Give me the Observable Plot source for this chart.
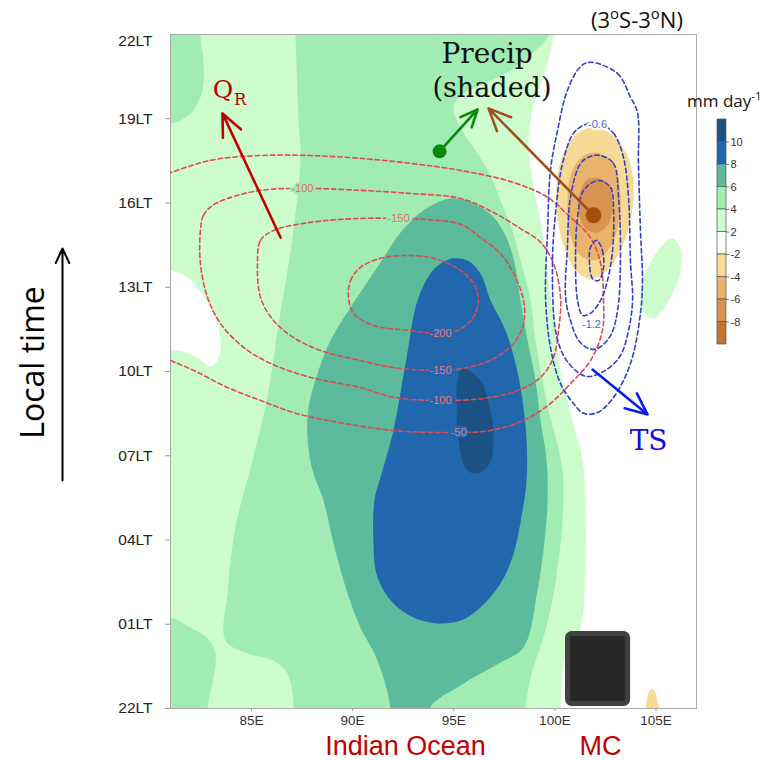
<!DOCTYPE html>
<html><head><meta charset="utf-8">
<script src="https://cdn.jsdelivr.net/npm/d3@7"></script>
<script src="https://cdn.jsdelivr.net/npm/@observablehq/plot@0.6"></script>
<style>
body{margin:0;background:#fff;}
#wrap{position:relative;width:770px;height:760px;overflow:hidden;}
#wrap svg{position:absolute;left:0;top:0;}
.lbl{position:absolute;white-space:nowrap;color:#111;}
.lbl sup{font-size:0.68em;line-height:0;vertical-align:0.62em;}
</style></head><body>
<div id="wrap">
<div class="lbl" style="left:591px;top:8px;font:22px/22px 'Open Sans';">(3<sup>o</sup>S-3<sup>o</sup>N)</div>
<div class="lbl" style="left:687px;top:92px;font:17px/17px 'Open Sans';">mm day<sup>-1</sup></div>
</div>
<script>
// ---- shading levels (mm/day) ----
const levels = ["≥10","8–10","6–8","4–6","2–4","-2–2","-4–-2","-6–-4","-8–-6","≤-8"];
const levelColors = ["#1b5283","#2167ae","#5bbb9c","#a1ecb2","#cdfccd","#ffffff","#f6da96","#e9b36c","#d9934f","#c27630"];
const cbarLabels = ["10","8","6","4","2","-2","-4","-6","-8"];

// ---- axes ----
const hourTicks = [0,3,6,9,12,15,18,21,24];
const hourLabels = ["22LT","01LT","04LT","07LT","10LT","13LT","16LT","19LT","22LT"];
const lonTicks = [85,90,95,100,105];

// ---- precipitation shaded regions [lon, hour] ----
const vlgMain = [[80,25],[99.93,25],[99.93,23.97],[99.54,22.72],[98.94,21.47],[98.70,20.23],[98.89,18.80],[99.29,17.38],[99.64,15.60],[99.93,13.82],[100.28,12.04],[100.87,10.26],[101.37,8.83],[101.51,7.05],[101.51,5.27],[101.27,2.88],[100.53,1.89],[100.28,0.04],[100.28,-1],[80,-1]];
const vlgBlob = [[105.81,16.74],[106.21,16.38],[106.16,15.42],[105.62,14.53],[104.88,13.89],[104.33,14.17],[104.28,15.07],[104.73,15.88],[105.32,16.49]];
const mgMain = [[87.08,25],[99.69,25],[99.69,23.97],[99.04,23.43],[97.81,22.72],[96.32,22.19],[95.24,21.76],[94.99,21.37],[95.34,20.66],[96.08,19.87],[96.82,18.98],[97.31,18.09],[97.90,17.02],[98.30,15.95],[98.80,14.53],[99.04,13.11],[99.39,11.68],[99.69,10.61],[100.08,9.54],[100.38,8.48],[100.38,6.70],[100.18,5.27],[99.88,3.85],[99.39,2.42],[98.89,1.35],[98.55,0.04],[98.55,-1],[87.08,-1],[87.08,0.04],[87.03,0.53],[86.78,1.25],[86.09,1.71],[84.81,1.96],[83.72,2.42],[83.82,4.10],[84.21,6.45],[85.05,8.83],[85.79,11.08],[86.29,13.46],[87.08,17.02],[87.43,19.76],[87.33,20.94],[87.18,23.90]];
const mgTopLeft = [[80,25],[82.48,25],[82.48,23.90],[82.63,23.08],[82.58,22.01],[82.14,21.30],[81.49,20.94],[81,20.83],[80,20.8]];
const mgBotLeft = [[80,3.24],[81,3.24],[81.99,2.88],[82.83,2.49],[83.22,1.99],[83.13,1.10],[82.83,0.04],[82.83,-1],[80,-1]];
const teal = [[94.84,18.16],[95.98,17.98],[96.97,17.49],[97.66,16.67],[98.05,15.71],[98.30,14.53],[98.65,13.11],[99.04,11.68],[99.29,10.26],[99.59,8.83],[99.64,7.41],[99.49,5.98],[99.14,4.20],[98.45,2.17],[97.31,1.64],[95.98,1.10],[95.09,0.71],[94.35,0.39],[93.85,0.04],[93.85,-1],[91.87,-1],[91.87,0.04],[91.23,1.71],[90.39,2.88],[89.75,4.10],[89.06,5.88],[88.56,7.41],[88.02,8.48],[87.77,9.65],[87.82,10.72],[88.27,11.93],[88.91,13.11],[89.90,14.28],[91.38,15.88],[92.37,16.95],[93.51,17.74]];
const blue = [[94.99,16.03],[95.68,15.95],[96.32,15.49],[96.82,14.53],[97.56,13.46],[98.05,12.29],[98.40,10.97],[98.60,9.54],[98.60,8.12],[98.40,7.05],[97.96,5.52],[97.31,4.45],[96.32,3.60],[95.34,3.13],[94.20,3.03],[93.01,3.24],[92.02,3.74],[91.23,4.67],[91.03,5.98],[91.08,7.41],[91.38,8.23],[92.02,9.90],[92.62,12.29],[93.21,14.53],[93.85,15.49],[94.45,15.88]];
const darkBlue = [[95.44,12.11],[96.32,11.68],[96.82,10.61],[96.97,9.54],[96.72,8.65],[96.08,8.37],[95.58,8.55],[95.24,9.54],[95.14,10.97],[95.19,11.75]];
const whiteLeft = [[80,15.53],[81.49,15.49],[82.14,15.14],[82.98,14.28],[83.37,13.57],[83.47,12.75],[83.22,12.29],[82.98,12.18],[82.33,12.50],[81.49,12.75],[80,12.93]];
const tan1 = [[101.86,20.69],[102.85,20.41],[103.59,19.69],[103.89,18.63],[103.74,17.38],[103.24,16.31],[102.50,15.53],[101.76,15.31],[101.02,15.60],[100.43,16.49],[100.08,17.74],[100.13,18.98],[100.53,19.94],[101.17,20.51]];
const tan2 = [[101.91,19.80],[102.65,19.59],[103.10,18.98],[103.24,17.91],[102.99,16.85],[102.50,16.20],[101.91,15.95],[101.27,16.13],[100.77,16.85],[100.62,17.91],[100.77,18.98],[101.27,19.59]];
const tan3 = [[102.01,18.91],[102.60,18.70],[102.85,17.98],[102.65,17.27],[102.11,16.95],[101.51,17.09],[101.17,17.74],[101.27,18.45],[101.56,18.80]];
const tanSpot = [[104.58,-1],[104.63,0.57],[104.83,0.71],[105.02,0.46],[105.12,-1]];

// ---- QR contours (red dashed) ----
const qr50 = [[80.51,18.95],[82.98,19.52],[85.45,19.69],[87.92,19.69],[90.39,19.59],[92.86,19.41],[95.34,19.16],[97.96,18.73],[99.64,18.20],[100.77,17.49],[101.76,16.77],[102.26,15.85],[102.40,14.64],[102.35,13.46],[101.76,12.39],[100.77,11.57],[99.78,10.86],[98.45,10.26],[96.82,9.90],[94.69,9.83],[92.02,9.90],[88.76,10.26],[87.08,10.54],[85.45,10.97],[83.82,11.43],[82.14,12.04],[80.51,12.54]];
const qr100 = [[82.48,17.02],[82.63,17.56],[83.08,17.91],[83.82,18.16],[85.45,18.45],[87.52,18.52],[90.39,18.45],[92.86,18.34],[95.34,18.16],[96.97,17.66],[98.30,17.09],[99.29,16.60],[99.93,15.85],[100.28,14.64],[100.18,13.46],[99.93,12.50],[99.29,11.79],[98.15,11.32],[96.47,11.04],[94.25,10.97],[92.02,11.08],[90.39,11.43],[87.92,11.79],[85.94,12.29],[84.61,12.86],[83.47,13.71],[82.83,14.64],[82.48,15.85]];
const qr150 = [[85.30,15.85],[85.45,16.67],[86.09,17.02],[87.92,17.31],[90.39,17.45],[92.27,17.45],[93.70,17.41],[95.34,17.24],[96.32,16.77],[97.31,16.20],[97.96,15.49],[98.45,14.53],[98.45,13.71],[97.96,13.00],[96.97,12.46],[95.68,12.14],[94.25,12.04],[92.02,12.14],[90.39,12.39],[88.41,12.75],[87.08,13.21],[86.09,13.82],[85.45,14.64]];
const qr200 = [[89.80,14.64],[89.90,15.24],[90.39,15.71],[91.38,16.03],[92.72,16.13],[94.00,16.03],[95.19,15.67],[95.98,15.14],[96.22,14.53],[95.93,13.89],[95.19,13.46],[94.35,13.35],[92.86,13.46],[91.03,13.64],[90.05,14.07]];
const qrLabelsGreen = [{lon:87.52,hr:18.52,t:"-100"},{lon:92.27,hr:17.45,t:"-150"}];
const qrLabelsBlue = [{lon:94.35,hr:13.35,t:"-200"},{lon:94.35,hr:12.04,t:"-150"},{lon:94.35,hr:10.97,t:"-100"},{lon:95.24,hr:9.83,t:"-50"}];

// ---- TS contours (blue dashed) ----
const ts1 = [[101.76,23.01],[103.10,22.61],[103.74,21.76],[104.08,21.23],[104.13,19.41],[104.23,17.02],[104.33,15.24],[104.23,14.07],[103.74,12.29],[102.90,11.08],[102.11,10.54],[101.42,10.51],[100.92,10.86],[100.28,11.57],[99.78,12.86],[99.54,14.64],[99.64,17.02],[99.78,19.16],[100.13,20.58],[100.62,22.01],[101.27,22.86]];
const ts2 = [[102.11,20.87],[102.90,20.48],[103.39,19.62],[103.64,18.20],[103.74,15.85],[103.84,14.53],[103.64,13.46],[103.24,12.57],[102.50,12.04],[101.61,11.82],[101.02,12.04],[100.43,12.57],[100.03,13.46],[99.88,15.85],[100.03,17.63],[100.38,19.41],[100.92,20.48],[101.51,20.80]];
const ts3 = [[102.26,19.69],[102.90,19.41],[103.15,18.20],[103.24,15.85],[103.10,14.17],[102.75,13.28],[102.11,12.82],[101.66,12.82],[101.17,13.11],[100.77,13.82],[100.53,14.64],[100.62,16.42],[100.77,18.20],[101.27,19.41],[101.76,19.66]];
const ts4 = [[102.16,18.80],[102.75,18.55],[102.90,17.74],[102.85,16.31],[102.60,15.24],[102.26,14.53],[101.76,14.07],[101.37,14.00],[101.12,14.53],[101.02,15.95],[101.12,17.49],[101.42,18.45]];
const ts5 = [[102.06,16.67],[102.35,16.31],[102.40,15.67],[102.16,15.24],[101.86,15.31],[101.71,15.88],[101.76,16.42]];
const tsLabels = [{lon:102.11,hr:20.80,t:"-0.6"},{lon:101.81,hr:13.68,t:"-1.2"}];

// ---- annotations ----
const qrArrow = [{x1:86.44,y1:16.77,x2:83.57,y2:21.19}];
const greenArrow = [{x1:94.30,y1:19.84,x2:96.18,y2:21.33}];
const brownArrow = [{x1:101.91,y1:17.56,x2:96.72,y2:21.37}];
const tsArrow = [{x1:101.86,y1:12.07,x2:104.58,y2:10.47}];
const greenDot = [{lon:94.30,hr:19.84}];
const brownDot = [{lon:101.91,hr:17.56}];
const maskBox = [{x1:100.65,x2:103.62,y1:0.16,y2:2.65}];
const regionLabels = [{lon:92.62,t:"Indian Ocean"},{lon:102.26,t:"MC"}];

const pts = (arr, level) => arr.map(([lon, hr]) => ({lon, hr, level}));
const shade = (arr, level) => Plot.line(pts(arr, level), {x:"lon", y:"hr", fill:"level", stroke:"none", curve:"catmull-rom-closed", clip:true});
const contour = (arr, color, closed) => Plot.line(pts(arr), {x:"lon", y:"hr", stroke:color, strokeWidth:1.6, strokeDasharray:"4.5,3", curve: closed ? "catmull-rom-closed" : "catmull-rom", clip:true});
const arrow = (d, color) => Plot.arrow(d, {x1:"x1", y1:"y1", x2:"x2", y2:"y2", stroke:color, strokeWidth:2.6, headLength:14, headAngle:48});
const RED = "#e04a50", BLU = "#3440c8";
const serif = "DejaVu Serif";
const yFmt = d => hourLabels[hourTicks.indexOf(d)];

const chart = Plot.plot({
  width: 770, height: 760,
  marginLeft: 170, marginRight: 74, marginTop: 34, marginBottom: 52,
  x: {domain: [81, 107]},
  y: {domain: [0, 24]},
  color: {type: "ordinal", domain: levels, range: levelColors},
  style: {fontFamily: "Liberation Sans", background: "white", overflow: "visible"},
  marks: [
    shade(vlgMain, "2–4"),
    shade(vlgBlob, "2–4"),
    shade(mgMain, "4–6"),
    shade(mgTopLeft, "4–6"),
    shade(mgBotLeft, "4–6"),
    shade(teal, "6–8"),
    shade(blue, "8–10"),
    shade(darkBlue, "≥10"),
    shade(whiteLeft, "-2–2"),
    shade(tan1, "-4–-2"),
    shade(tan2, "-6–-4"),
    shade(tan3, "-8–-6"),
    shade(tanSpot, "-4–-2"),
    Plot.frame({stroke: "#aaa"}),
    contour(qr50, RED, false),
    contour(qr100, RED, true),
    contour(qr150, RED, true),
    contour(qr200, RED, true),
    contour(ts1, BLU, true),
    contour(ts2, BLU, true),
    contour(ts3, BLU, true),
    contour(ts4, BLU, true),
    contour(ts5, BLU, true),
    Plot.text(qrLabelsGreen, {x:"lon", y:"hr", text:"t", fill:"#e06a6a", stroke:"#a1ecb2", strokeWidth:4, paintOrder:"stroke", fontSize:11}),
    Plot.text(qrLabelsBlue, {x:"lon", y:"hr", text:"t", fill:"#e87a7a", stroke:"#2167ae", strokeWidth:4, paintOrder:"stroke", fontSize:11}),
    Plot.text(tsLabels, {x:"lon", y:"hr", text:"t", fill:"#5060d0", stroke:"white", strokeWidth:4, paintOrder:"stroke", fontSize:11}),
    arrow(qrArrow, "#c00000"),
    arrow(greenArrow, "#0a8a0a"),
    arrow(brownArrow, "#a0501a"),
    arrow(tsArrow, "#0a1ee8"),
    Plot.dot(greenDot, {x:"lon", y:"hr", r:7, fill:"#0a8a0a"}),
    Plot.dot(brownDot, {x:"lon", y:"hr", r:8, fill:"#a24f0c"}),
    Plot.text([{lon:83.60, hr:22.01}], {x:"lon", y:"hr", text:() => "Q", fontFamily:serif, fontSize:25, fill:"#c00000"}),
    Plot.text([{lon:84.44, hr:21.66}], {x:"lon", y:"hr", text:() => "R", fontFamily:serif, fontSize:16.5, fill:"#c00000"}),
    Plot.text([{lon:96.65, hr:23.29}], {x:"lon", y:"hr", text:() => "Precip", fontFamily:serif, fontSize:28, fill:"#111"}),
    Plot.text([{lon:96.89, hr:22.08}], {x:"lon", y:"hr", text:() => "(shaded)", fontFamily:serif, fontSize:27, fill:"#111"}),
    Plot.text([{lon:104.63, hr:9.51}], {x:"lon", y:"hr", text:() => "TS", fontFamily:serif, fontSize:28, fill:"#1010e0"}),
    Plot.rect(maskBox, {x1:"x1", x2:"x2", y1:"y1", y2:"y2", fill:"#272727", stroke:"#404040", strokeWidth:5, rx:4}),
    Plot.axisX({ticks: lonTicks, tickFormat: d => d + "E", tickSize: 3, tickPadding: 4, fontSize: 13.5, label: null, stroke: "#999", fill: "#333", fontFamily: "'Liberation Sans Narrow', 'Liberation Sans', sans-serif"}),
    Plot.axisY({ticks: hourTicks.slice(0, 8), tickFormat: yFmt, tickSize: 5, tickPadding: 13, fontSize: 15.5, label: null, stroke: "#999", fill: "#222"}),
    Plot.axisY({ticks: [24], tickFormat: yFmt, tickSize: 0, tickPadding: 18, fontSize: 15.5, label: null, fill: "#222", dy: 7}),
    Plot.text([{hr:12.32, t:"Local time"}], {y:"hr", text:"t", frameAnchor:"left", textAnchor:"middle", dx:-137, rotate:-90, fontSize:32, fontFamily:"Open Sans", fill:"#000"}),
    Plot.arrow([{x:81, y1:8.12, y2:16.38}], {x1:"x", x2:"x", y1:"y1", y2:"y2", dx:-108, stroke:"#000", strokeWidth:2, headLength:12, headAngle:50}),
    Plot.text(regionLabels, {x:"lon", text:"t", frameAnchor:"bottom", lineAnchor:"middle", dy:37.5, fontSize:27, fontFamily:"Liberation Sans", fill:"#c00000"})
  ]
});
const wrap = document.getElementById("wrap");
wrap.insertBefore(chart, wrap.firstChild);

// ---- colour bar ----
const cbarIdx = levels.map((level, i) => ({i, level}));
const cbarTicks = cbarLabels.map((t, k) => ({i: k + 1, t}));
const cbar = Plot.plot({
  width: 60, height: 245, marginTop: 10, marginBottom: 10, marginLeft: 17, marginRight: 34,
  x: {domain: [0, 1], axis: null},
  y: {domain: [0, 10], reverse: true, axis: null},
  color: {type: "ordinal", domain: levels, range: levelColors},
  style: {fontFamily: "Liberation Sans", background: "transparent", overflow: "visible"},
  marks: [
    Plot.rect(cbarIdx, {x1: 0, x2: 1, y1: "i", y2: d => d.i + 1, fill: "level", stroke: "#555", strokeWidth: 0.7}),
    Plot.ruleY(cbarTicks, {y: "i", x1: 1, x2: 1.35, stroke: "#555", strokeWidth: 0.7}),
    Plot.text(cbarTicks, {x: 1, y: "i", text: "t", dx: 4, textAnchor: "start", fontSize: 11, fill: "#333"})
  ]
});
cbar.style.left = "700px";
cbar.style.top = "109px";
wrap.appendChild(cbar);
</script></body></html>
